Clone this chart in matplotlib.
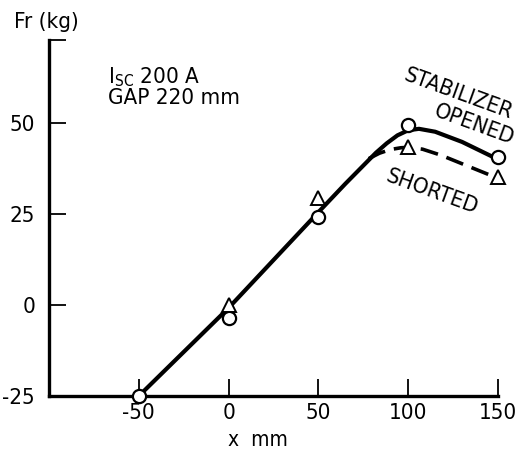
import matplotlib
matplotlib.use("Agg")
import matplotlib.pyplot as plt

# ── data ──
x_ticks = [-50, 0, 50, 100, 150]
y_ticks = [-25, 0, 25, 50]

# measured points
x_open = [-50, 0, 50, 100, 150]
y_open = [-25, -3.6, 24.2, 49.5, 40.7]
x_short = [0, 50, 100, 150]
y_short = [0.0, 29.4, 43.4, 35.2]

# fitted curves (traced)
x_curve_open = [-50, 0, 50, 65, 75, 82, 88, 94, 100, 106, 115, 130, 150]
y_curve_open = [-25, -0.8, 25.5, 33.3, 38.3, 41.8, 44.4, 46.6, 48.0, 48.4, 47.6, 44.8, 40.0]
x_curve_short = [78, 84, 90, 96, 100, 108, 118, 130, 150]
y_curve_short = [40.2, 41.7, 42.7, 43.2, 43.3, 42.8, 41.2, 38.8, 34.8]

plt.rcParams['font.family'] = ['DejaVu Sans']
plt.rcParams['font.stretch'] = 'condensed'
plt.rcParams['axes.unicode_minus'] = False
plt.rcParams['mathtext.fontset'] = 'dejavusans'

fig = plt.figure(figsize=(5.25, 4.57), dpi=100)
ax = fig.add_axes([49/525, 1-396/457, (498-49)/525, (396-40)/457])

ax.plot(x_curve_open, y_curve_open, color='black', lw=3.0, solid_capstyle='butt',
        solid_joinstyle='round', clip_on=False)
ax.plot(x_curve_short, y_curve_short, color='black', lw=2.6, dashes=(5, 2.5), clip_on=False)
ax.plot(x_open, y_open, 'o', ms=9.5, mfc='white', mec='black', mew=1.6, zorder=5,
        clip_on=False)
ax.plot(x_short, y_short, '^', ms=10, mfc='white', mec='black', mew=1.4, zorder=5,
        clip_on=False)

ytop = 72.8
ax.set_xlim(-100, 150)
ax.set_ylim(-25, ytop)
ax.set_xticks(x_ticks)
ax.set_yticks(y_ticks + [ytop])
ax.set_yticklabels([str(v) for v in y_ticks] + [''])
ax.tick_params(direction='in', length=12, width=1.3, labelsize=16, pad=5)
ax.tick_params(axis='y', pad=10)

for s in ['top', 'right']:
    ax.spines[s].set_visible(False)
for s in ['left', 'bottom']:
    ax.spines[s].set_linewidth(2.4)

fig.text(14/525, 1-22/457, 'Fr (kg)', fontsize=16, va='center', ha='left')
fig.text(258/525, 1-440/457, 'x  mm', fontsize=15, va='center', ha='center')

ax.text(-67, 62.5, r'I$_{\mathregular{SC}}$ 200 A', fontsize=16, va='center', ha='left')
ax.text(-67, 57.0, 'GAP 220 mm', fontsize=16, va='center', ha='left')

ax.text(128, 58, 'STABILIZER', fontsize=16, rotation=-20, ha='center', va='center')
ax.text(137, 49.5, 'OPENED', fontsize=16, rotation=-20, ha='center', va='center')
ax.text(113, 31, 'SHORTED', fontsize=16, rotation=-20, ha='center', va='center')

fig.savefig('out.png', dpi=100)
